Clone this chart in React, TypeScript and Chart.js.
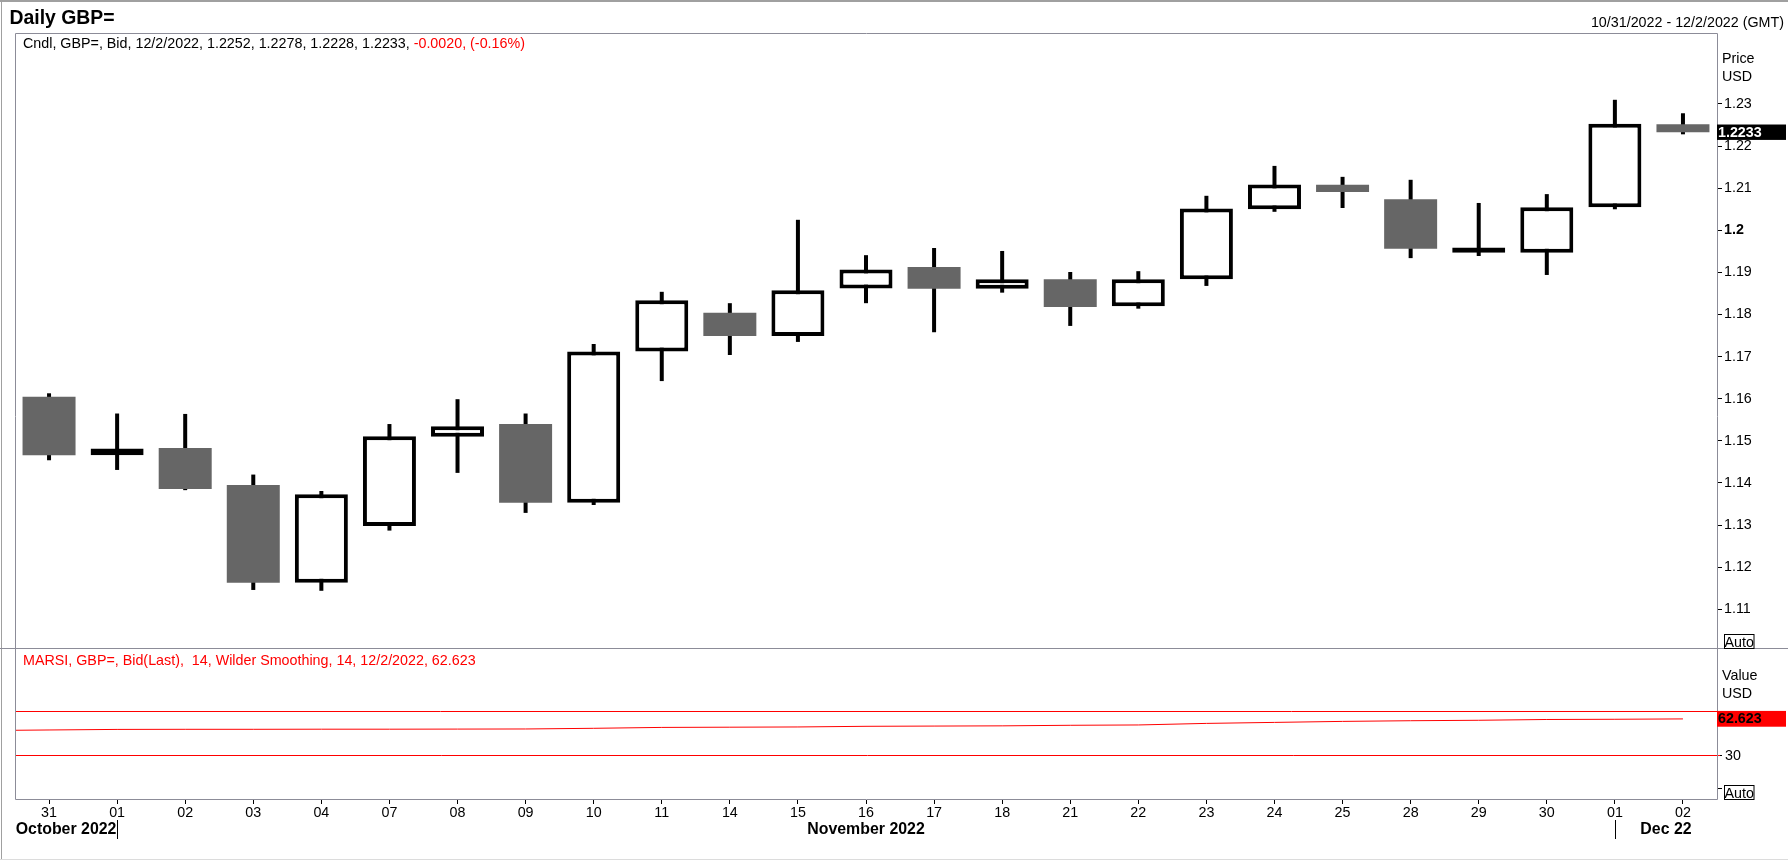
import React, { useEffect, useRef } from 'react';
import { Chart, registerables } from 'chart.js';

Chart.register(...registerables);

const FONT = '"Liberation Sans", Arial, Helvetica, sans-serif';
const FS = 14.3;

// ---- data ----
const DAY_LABELS = ['31', '01', '02', '03', '04', '07', '08', '09', '10', '11', '14', '15', '16', '17', '18', '21', '22', '23', '24', '25', '28', '29', '30', '01', '02'];
const OPEN = [1.1605, 1.1466, 1.1483, 1.1395, 1.1163, 1.1298, 1.1510, 1.1540, 1.1353, 1.1712, 1.1804, 1.1749, 1.1862, 1.1913, 1.1861, 1.1884, 1.1820, 1.1884, 1.2050, 1.2108, 1.2074, 1.1947, 1.1947, 1.2055, 1.2252];
const HIGH = [1.1613, 1.1565, 1.1564, 1.1420, 1.1381, 1.1540, 1.1599, 1.1565, 1.1730, 1.1854, 1.1827, 1.2025, 1.1941, 1.1958, 1.1951, 1.1901, 1.1903, 1.2082, 1.2153, 1.2127, 1.2120, 1.2065, 1.2086, 1.2310, 1.2278];
const LOW = [1.1454, 1.1431, 1.1383, 1.1146, 1.1144, 1.1287, 1.1424, 1.1329, 1.1348, 1.1642, 1.1704, 1.1735, 1.1827, 1.1758, 1.1852, 1.1773, 1.1814, 1.1868, 1.2044, 1.2053, 1.1934, 1.1939, 1.1894, 1.2050, 1.2228];
const CLOSE = [1.1466, 1.1482, 1.1386, 1.1163, 1.1373, 1.1511, 1.1535, 1.1353, 1.1712, 1.1834, 1.1749, 1.1858, 1.1907, 1.1861, 1.1884, 1.1818, 1.1884, 1.2052, 1.2109, 1.2091, 1.1956, 1.1959, 1.2055, 1.2253, 1.2233];
const RSI = [52.7, 53.2, 53.3, 53.3, 53.4, 53.4, 53.5, 53.6, 54.2, 55.0, 55.2, 55.4, 56.0, 56.2, 56.4, 56.9, 57.2, 58.6, 59.5, 60.4, 61.0, 61.4, 62.1, 62.3, 62.623];

const PRICE_TICKS = [1.11, 1.12, 1.13, 1.14, 1.15, 1.16, 1.17, 1.18, 1.19, 1.2, 1.21, 1.22, 1.23];
const BOLD_PRICE_TICK = 1.2;
const RSI_TICKS = [0, 30];
const RSI_HIDDEN_TICK = 0;
const RSI_LEVELS = [70, 30];
const MONTH_NAMES = ['October 2022', 'November 2022', 'Dec 22'];
const MONTH_START_INDEX = [0, 1, 23];

const TITLE = 'Daily GBP=';
const DATE_RANGE = '10/31/2022 - 12/2/2022 (GMT)';
const CANDLE_LEGEND = 'Cndl, GBP=, Bid, 12/2/2022, 1.2252, 1.2278, 1.2228, 1.2233, ';
const CANDLE_CHANGE = '-0.0020, (-0.16%)';
const RSI_LEGEND = 'MARSI, GBP=, Bid(Last),  14, Wilder Smoothing, 14, 12/2/2022, 62.623';

// axis ranges (price panel occupies upper part, RSI panel lower part of the same plot area)
const PRICE_MAX = 1.24686;
const PRICE_MIN = 1.06472;
const PRICE_FLOOR = 1.1007; // value where price panel ends
const RSI_MAX = 677.8;
const RSI_MIN = -10.1;

const BORDER = '#8c8c98';

const overlay = {
  id: 'overlay',
  beforeDatasetsDraw(chart: any) {
    const ctx = chart.ctx;
    const area = chart.chartArea;
    const xs = chart.scales.x;
    const ys2 = chart.scales.y2;
    ctx.save();
    ctx.strokeStyle = '#ff0000';
    ctx.lineWidth = 1;
    RSI_LEVELS.forEach((v) => {
      const yy = Math.round(ys2.getPixelForValue(v)) + 0.5;
      ctx.beginPath();
      ctx.moveTo(area.left, yy);
      ctx.lineTo(area.right + (v === 30 ? 3 : 0), yy);
      ctx.stroke();
    });
    // RSI line continues from the previous (off-screen) session to the left edge
    const y0 = ys2.getPixelForValue(RSI[0]);
    ctx.beginPath();
    ctx.moveTo(area.left, y0 + 0.3);
    ctx.lineTo(xs.getPixelForValue(0), y0);
    ctx.stroke();
    ctx.restore();
  },
  afterDraw(chart: any) {
    const ctx = chart.ctx as CanvasRenderingContext2D;
    const area = chart.chartArea;
    const xs = chart.scales.x;
    const ys = chart.scales.y;
    const ys2 = chart.scales.y2;
    const W = chart.width;
    const L = Math.floor(area.left) + 0.5;
    const R = Math.floor(area.right) + 0.5;
    const T = Math.floor(area.top) + 0.5;
    const B = Math.floor(area.bottom) - 0.5;
    const split = Math.floor(ys.getPixelForValue(PRICE_FLOOR)) + 0.5;
    ctx.save();

    // outer frame
    ctx.strokeStyle = '#a0a0a0';
    ctx.lineWidth = 2;
    ctx.beginPath();
    ctx.moveTo(0, 1);
    ctx.lineTo(W, 1);
    ctx.stroke();
    ctx.lineWidth = 1;
    ctx.beginPath();
    ctx.moveTo(1.5, 0);
    ctx.lineTo(1.5, 860);
    ctx.stroke();
    ctx.strokeStyle = '#dcdcdc';
    ctx.beginPath();
    ctx.moveTo(0, 859.5);
    ctx.lineTo(W, 859.5);
    ctx.stroke();

    // panel borders
    ctx.strokeStyle = BORDER;
    ctx.lineWidth = 1;
    ctx.beginPath();
    ctx.moveTo(L, T);
    ctx.lineTo(R, T);
    ctx.lineTo(R, B);
    ctx.lineTo(L, B);
    ctx.closePath();
    ctx.moveTo(0, split);
    ctx.lineTo(W, split);
    ctx.stroke();

    // title & header
    ctx.fillStyle = '#000';
    ctx.textAlign = 'left';
    ctx.textBaseline = 'alphabetic';
    ctx.font = `bold 19.4px ${FONT}`;
    ctx.fillText(TITLE, 9.5, 24);
    ctx.font = `${FS}px ${FONT}`;
    ctx.textAlign = 'right';
    ctx.fillText(DATE_RANGE, 1784, 26.5);

    // candle legend
    ctx.textAlign = 'left';
    ctx.fillText(CANDLE_LEGEND, 23, 48);
    const w1 = ctx.measureText(CANDLE_LEGEND).width;
    ctx.fillStyle = '#ff0000';
    ctx.fillText(CANDLE_CHANGE, 23 + w1, 48);
    // RSI legend
    ctx.fillText(RSI_LEGEND, 23, 665);

    // axis titles
    ctx.fillStyle = '#000';
    ctx.fillText('Price', 1722, 63);
    ctx.fillText('USD', 1722, 81);
    ctx.fillText('Value', 1722, 679.5);
    ctx.fillText('USD', 1722, 697.5);

    // RSI tick labels (placed from the RSI scale)
    ctx.textBaseline = 'middle';
    ys2.ticks.forEach((t: any) => {
      if (t.value === RSI_HIDDEN_TICK) return;
      ctx.fillText(String(t.value), area.right + 8, ys2.getPixelForValue(t.value) + 0.5);
    });

    // last price box
    const lastClose = CLOSE[CLOSE.length - 1];
    const py = ys.getPixelForValue(lastClose);
    ctx.fillStyle = '#000';
    ctx.fillRect(area.right, py - 7.7, 69, 15.4);
    ctx.fillStyle = '#fff';
    ctx.font = `bold ${FS}px ${FONT}`;
    ctx.fillText(lastClose.toFixed(4), area.right + 1, py + 0.5);

    // last RSI box
    const lastRsi = RSI[RSI.length - 1];
    const ry = ys2.getPixelForValue(lastRsi);
    ctx.fillStyle = '#ff0000';
    ctx.fillRect(area.right, ry - 8, 69, 15.8);
    ctx.fillStyle = '#000';
    ctx.fillText(lastRsi.toFixed(3), area.right + 1, ry + 0.5);

    // Auto boxes
    ctx.font = `${FS}px ${FONT}`;
    ctx.textBaseline = 'alphabetic';
    const autoBox = (bottom: number) => {
      ctx.fillStyle = '#fff';
      ctx.fillRect(1724, bottom - 15, 30, 15);
      ctx.strokeStyle = '#000';
      ctx.lineWidth = 1;
      ctx.strokeRect(1724.5, bottom - 14.5, 29.5, 14);
      ctx.fillStyle = '#000';
      ctx.fillText('Auto', 1724.5, bottom - 2);
    };
    autoBox(split + 0.5);
    autoBox(B + 0.5);

    // months
    ctx.font = `bold 15.9px ${FONT}`;
    ctx.textAlign = 'center';
    ctx.fillStyle = '#000';
    ctx.strokeStyle = '#000';
    MONTH_START_INDEX.forEach((si, m) => {
      const start = m === 0 ? area.left : xs.getPixelForValue(si);
      const end = m + 1 < MONTH_START_INDEX.length ? xs.getPixelForValue(MONTH_START_INDEX[m + 1]) : area.right;
      ctx.fillText(MONTH_NAMES[m], (start + end) / 2, 834);
      if (m > 0) {
        const sx = Math.round(start) + 0.5;
        ctx.beginPath();
        ctx.moveTo(sx, 820);
        ctx.lineTo(sx, 839);
        ctx.stroke();
      }
    });
    ctx.restore();
  },
};

export default function App() {
  const ref = useRef<HTMLCanvasElement | null>(null);

  useEffect(() => {
    if (!ref.current) return;
    Chart.defaults.font.family = FONT;
    Chart.defaults.color = '#000';

    const upBodies = OPEN.map((o, i) => (CLOSE[i] >= o ? [o, CLOSE[i]] : null));
    const downBodies = OPEN.map((o, i) => (CLOSE[i] < o ? [CLOSE[i], o] : null));
    const wicks = LOW.map((l, i) => [l, HIGH[i]]);

    const chart = new Chart(ref.current, {
      type: 'bar',
      data: {
        labels: DAY_LABELS,
        datasets: [
          {
            type: 'bar',
            label: 'Up',
            data: upBodies as any,
            yAxisID: 'y',
            backgroundColor: '#ffffff',
            borderColor: '#000000',
            borderWidth: 4,
            borderSkipped: false,
            inflateAmount: 0,
            barThickness: 53,
            grouped: false,
            order: 1,
          } as any,
          {
            type: 'bar',
            label: 'Down',
            data: downBodies as any,
            yAxisID: 'y',
            backgroundColor: '#666666',
            borderWidth: 0,
            inflateAmount: 0,
            barThickness: 53,
            grouped: false,
            order: 1,
          } as any,
          {
            type: 'bar',
            label: 'Wick',
            data: wicks as any,
            yAxisID: 'y',
            backgroundColor: '#000000',
            borderWidth: 0,
            inflateAmount: 0,
            barThickness: 4,
            grouped: false,
            order: 2,
          } as any,
          {
            type: 'line',
            label: 'RSI',
            data: RSI,
            yAxisID: 'y2',
            borderColor: '#ff0000',
            borderWidth: 1,
            pointRadius: 0,
            tension: 0,
            order: 0,
          } as any,
        ],
      },
      options: {
        animation: false,
        responsive: true,
        maintainAspectRatio: false,
        events: [],
        layout: { padding: { left: 15, top: 33, right: 0, bottom: 0 } },
        plugins: {
          legend: { display: false },
          tooltip: { enabled: false },
        },
        scales: {
          x: {
            type: 'category',
            offset: true,
            border: { display: false },
            grid: { display: true, drawOnChartArea: false, drawTicks: true, tickLength: 4, tickColor: '#000', offset: false },
            ticks: { autoSkip: false, maxRotation: 0, padding: 0, color: '#000', font: { size: FS, family: FONT } },
            afterFit: (s: any) => {
              s.height = 62;
            },
          },
          y: {
            type: 'linear',
            position: 'right',
            weight: 1,
            min: PRICE_MIN,
            max: PRICE_MAX,
            border: { display: false },
            grid: { display: true, drawOnChartArea: false, drawTicks: true, tickLength: 5, tickColor: '#000' },
            afterBuildTicks: (s: any) => {
              s.ticks = PRICE_TICKS.map((v) => ({ value: v }));
            },
            ticks: {
              padding: 2,
              color: '#000',
              autoSkip: false,
              callback: (v: any) => String(v),
              font: (c: any) => ({ size: FS, family: FONT, weight: c.tick && c.tick.value === BOLD_PRICE_TICK ? 'bold' : 'normal' }),
            },
            afterFit: (s: any) => {
              s.width = 71;
            },
          },
          y2: {
            type: 'linear',
            position: 'right',
            weight: 0,
            min: RSI_MIN,
            max: RSI_MAX,
            border: { display: false },
            grid: { display: true, drawOnChartArea: false, drawTicks: true, tickLength: 5, tickColor: '#000' },
            afterBuildTicks: (s: any) => {
              s.ticks = RSI_TICKS.map((v) => ({ value: v }));
            },
            ticks: {
              display: false,
              autoSkip: false,
              font: { size: FS, family: FONT },
            },
            afterFit: (s: any) => {
              s.width = 0;
            },
          },
        },
      } as any,
      plugins: [overlay],
    });

    return () => {
      chart.destroy();
    };
  }, []);

  return (
    <div style={{ position: 'fixed', left: 0, top: 0, width: 1788, height: 862, background: '#fff' }}>
      <canvas ref={ref} />
    </div>
  );
}
